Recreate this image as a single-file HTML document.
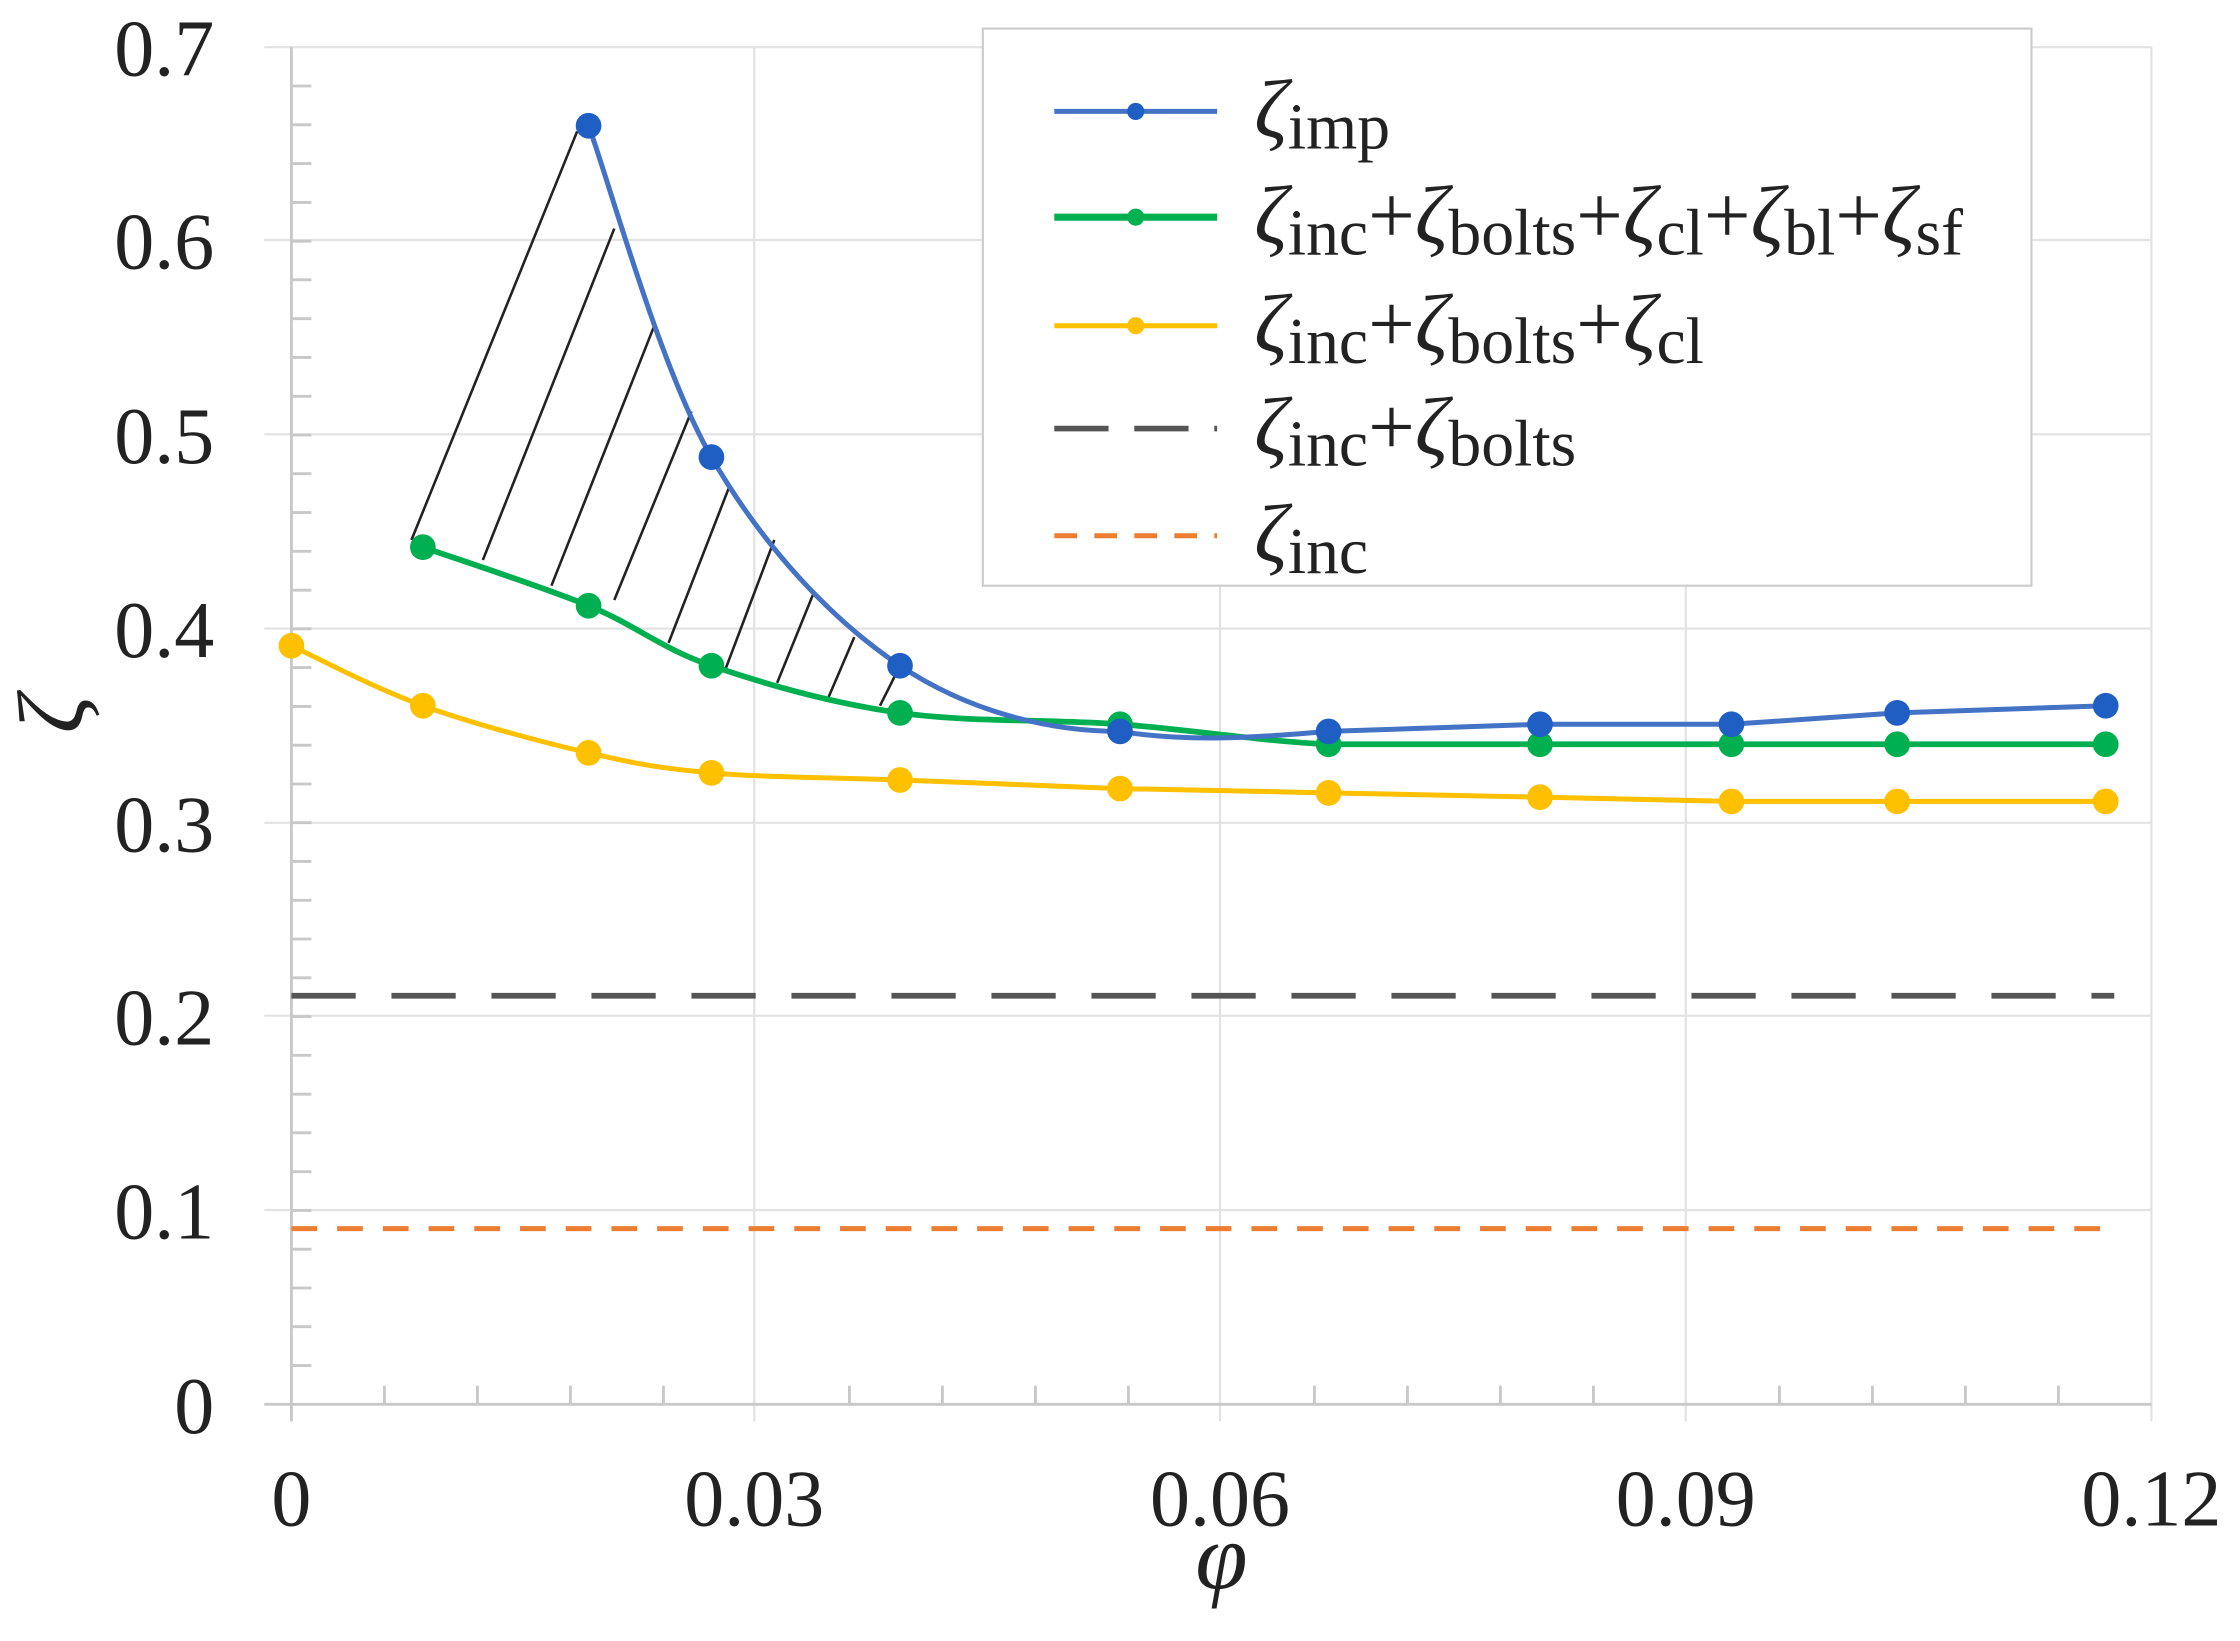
<!DOCTYPE html>
<html><head><meta charset="utf-8"><style>
html,body{margin:0;padding:0;background:#fff;}
svg{display:block}
text{font-family:"Liberation Serif",serif;fill:#222}
</style></head><body>
<svg width="2240" height="1641" viewBox="0 0 1568 1148.7" xmlns="http://www.w3.org/2000/svg">
<g stroke="#e2e2e2" stroke-width="1.5">
<line x1="185" y1="33" x2="1506" y2="33"/>
<line x1="185" y1="168" x2="1506" y2="168"/>
<line x1="185" y1="304" x2="1506" y2="304"/>
<line x1="185" y1="440" x2="1506" y2="440"/>
<line x1="185" y1="576" x2="1506" y2="576"/>
<line x1="185" y1="711" x2="1506" y2="711"/>
<line x1="185" y1="847" x2="1506" y2="847"/>
<line x1="528" y1="33" x2="528" y2="995"/>
<line x1="854" y1="33" x2="854" y2="995"/>
<line x1="1180" y1="33" x2="1180" y2="995"/>
<line x1="1506" y1="33" x2="1506" y2="995"/>
</g>
<g stroke="#c8c8c8" stroke-width="2" fill="none">
<line x1="185" y1="983" x2="1506" y2="983"/>
<line x1="204" y1="33" x2="204" y2="995"/>
<path d="M204 955.9h14M204 928.7h14M204 901.6h14M204 874.4h14M204 847.3h14M204 820.2h14M204 793h14M204 765.9h14M204 738.7h14M204 711.6h14M204 684.5h14M204 657.3h14M204 630.2h14M204 603h14M204 575.9h14M204 548.8h14M204 521.6h14M204 494.5h14M204 467.3h14M204 440.2h14M204 413.1h14M204 385.9h14M204 358.8h14M204 331.6h14M204 304.5h14M204 277.4h14M204 250.2h14M204 223.1h14M204 195.9h14M204 168.8h14M204 141.7h14M204 114.5h14M204 87.4h14M204 60.2h14"/>
<path d="M269.1 970v13M334.2 970v13M399.3 970v13M464.4 970v13M594.6 970v13M659.7 970v13M724.8 970v13M789.9 970v13M920.1 970v13M985.2 970v13M1050.3 970v13M1115.4 970v13M1245.6 970v13M1310.7 970v13M1375.8 970v13M1440.9 970v13"/>
</g>
<g stroke="#222" stroke-width="1.8">
<line x1="288" y1="378" x2="404" y2="92"/>
<line x1="338" y1="392" x2="430" y2="160"/>
<line x1="386" y1="410" x2="458" y2="228"/>
<line x1="430" y1="420" x2="484" y2="288"/>
<line x1="468" y1="450" x2="510" y2="342"/>
<line x1="508" y1="468" x2="542" y2="378"/>
<line x1="544" y1="478" x2="570" y2="414"/>
<line x1="580" y1="488" x2="598" y2="446"/>
<line x1="616" y1="494" x2="628" y2="470"/>
</g>
<line x1="204" y1="697" x2="1480" y2="697" stroke="#555" stroke-width="4" stroke-dasharray="45,25"/>
<line x1="204" y1="860" x2="1480" y2="860" stroke="#ed7d31" stroke-width="3.5" stroke-dasharray="18,14"/>
<path fill="none" stroke="#ffc000" stroke-width="3.5" d="M204,452 C219.3,459 261.3,481.5 296,494 C330.7,506.5 378.3,519.2 412,527 C445.7,534.8 461.7,537.8 498,541 C534.3,544.2 582.3,544.2 630,546 L784,552 L930,555 L1078,558 L1212,561 L1328,561 L1474,561"/>
<path fill="none" stroke="#00b050" stroke-width="4" d="M296,383 C315.3,389.8 378.3,410.2 412,424 C445.7,437.8 461.7,453.5 498,466 C534.3,478.5 582.3,492.2 630,499 C677.7,505.8 734,503.3 784,507 C834,510.7 881,518.7 930,521 L1474,521"/>
<path fill="none" stroke="#4472c4" stroke-width="3.5" d="M412,88 C426.3,126.7 461.7,257 498,320 C534.3,383 582.3,434 630,466 C677.7,498 734,512 784,512 C834,520 880,516 930,512 L1078,507 L1212,507 L1328,499 L1474,494"/>
<g fill="#ffc000">
<circle cx="204" cy="452" r="9"/><circle cx="296" cy="494" r="9"/><circle cx="412" cy="527" r="9"/><circle cx="498" cy="541" r="9"/><circle cx="630" cy="546" r="9"/><circle cx="784" cy="552" r="9"/><circle cx="930" cy="555" r="9"/><circle cx="1078" cy="558" r="9"/><circle cx="1212" cy="561" r="9"/><circle cx="1328" cy="561" r="9"/><circle cx="1474" cy="561" r="9"/>
</g>
<g fill="#00b050">
<circle cx="296" cy="383" r="9"/><circle cx="412" cy="424" r="9"/><circle cx="498" cy="466" r="9"/><circle cx="630" cy="499" r="9"/><circle cx="784" cy="507" r="9"/><circle cx="930" cy="521" r="9"/><circle cx="1078" cy="521" r="9"/><circle cx="1212" cy="521" r="9"/><circle cx="1328" cy="521" r="9"/><circle cx="1474" cy="521" r="9"/>
</g>
<g fill="#1f5fc4">
<circle cx="412" cy="88" r="9"/><circle cx="498" cy="320" r="9"/><circle cx="630" cy="466" r="9"/><circle cx="784" cy="512" r="9"/><circle cx="930" cy="512" r="9"/><circle cx="1078" cy="507" r="9"/><circle cx="1212" cy="507" r="9"/><circle cx="1328" cy="499" r="9"/><circle cx="1474" cy="494" r="9"/>
</g>
<g font-size="56" text-anchor="end">
<text x="150" y="1003">0</text><text x="150" y="867">0.1</text><text x="150" y="731">0.2</text>
<text x="150" y="596">0.3</text><text x="150" y="460">0.4</text><text x="150" y="324">0.5</text>
<text x="150" y="188">0.6</text><text x="150" y="53">0.7</text>
</g>
<g font-size="56" text-anchor="middle">
<text x="204" y="1068">0</text><text x="528" y="1068">0.03</text><text x="854" y="1068">0.06</text>
<text x="1180" y="1068">0.09</text><text x="1506" y="1068">0.12</text>
</g>
<text x="855" y="1112" font-size="66" font-style="italic" text-anchor="middle">φ</text>
<text transform="translate(58,500) rotate(-90)" font-size="66" font-style="italic" text-anchor="middle">ζ</text>
<rect x="688" y="20" width="734" height="390" fill="#fff" stroke="#ccc" stroke-width="1.5"/>
<line x1="738" y1="78" x2="852" y2="78" stroke="#4472c4" stroke-width="3.5"/><circle cx="795" cy="78" r="6" fill="#1f5fc4"/>
<line x1="738" y1="152" x2="852" y2="152" stroke="#00b050" stroke-width="5"/><circle cx="795" cy="152" r="6" fill="#00b050"/>
<line x1="738" y1="228" x2="852" y2="228" stroke="#ffc000" stroke-width="3.5"/><circle cx="795" cy="228" r="6" fill="#ffc000"/>
<line x1="738" y1="300" x2="852" y2="300" stroke="#555" stroke-width="4" stroke-dasharray="38,18"/>
<line x1="738" y1="375" x2="852" y2="375" stroke="#ed7d31" stroke-width="3.5" stroke-dasharray="16,12"/>
<g font-size="58">
<text x="878" y="96" font-style="italic">ζ<tspan font-size="46" font-style="normal" dy="8">imp</tspan></text>
<text x="878" y="170" font-style="italic">ζ<tspan font-size="46" font-style="normal" dy="8">inc</tspan><tspan font-style="normal" dy="-8">+</tspan>ζ<tspan font-size="46" font-style="normal" dy="8">bolts</tspan><tspan font-style="normal" dy="-8">+</tspan>ζ<tspan font-size="46" font-style="normal" dy="8">cl</tspan><tspan font-style="normal" dy="-8">+</tspan>ζ<tspan font-size="46" font-style="normal" dy="8">bl</tspan><tspan font-style="normal" dy="-8">+</tspan>ζ<tspan font-size="46" font-style="normal" dy="8">sf</tspan></text>
<text x="878" y="246" font-style="italic">ζ<tspan font-size="46" font-style="normal" dy="8">inc</tspan><tspan font-style="normal" dy="-8">+</tspan>ζ<tspan font-size="46" font-style="normal" dy="8">bolts</tspan><tspan font-style="normal" dy="-8">+</tspan>ζ<tspan font-size="46" font-style="normal" dy="8">cl</tspan></text>
<text x="878" y="318" font-style="italic">ζ<tspan font-size="46" font-style="normal" dy="8">inc</tspan><tspan font-style="normal" dy="-8">+</tspan>ζ<tspan font-size="46" font-style="normal" dy="8">bolts</tspan></text>
<text x="878" y="393" font-style="italic">ζ<tspan font-size="46" font-style="normal" dy="8">inc</tspan></text>
</g>
</svg>
</body></html>
